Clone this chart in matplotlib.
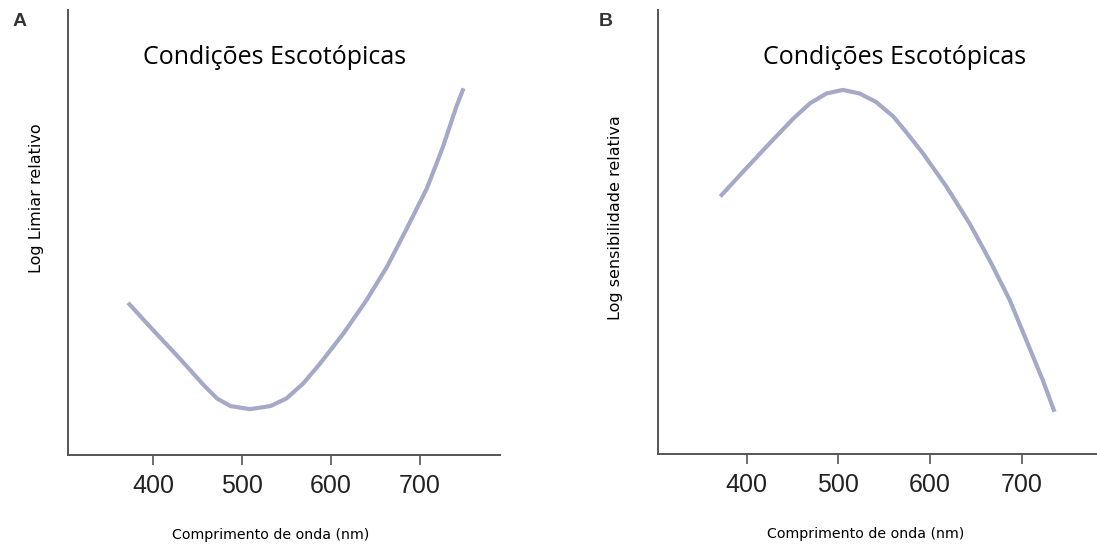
import matplotlib.pyplot as plt

# --- Data (wavelength in nm, relative log units) ---
wl_a = [372, 400, 430, 457, 472, 487, 509, 532, 550, 569, 588, 614, 640, 663, 685, 708, 726, 741, 749]
thr_a = [3.42, 2.81, 2.17, 1.57, 1.27, 1.10, 1.03, 1.10, 1.27, 1.61, 2.06, 2.73, 3.48, 4.23, 5.08,
         6.00, 6.93, 7.83, 8.24]

wl_b = [371, 396, 425, 451, 469, 487, 505, 523, 541, 560, 574, 592, 618, 643, 665, 687, 705, 723, 736]
sens_b = [5.80, 6.36, 7.00, 7.56, 7.90, 8.12, 8.20, 8.12, 7.93, 7.60, 7.25, 6.78, 6.02, 5.20, 4.37,
          3.47, 2.57, 1.67, 0.95]

ticks = [400, 500, 600, 700]
title = "Condições Escotópicas"
xlabel = "Comprimento de onda (nm)"
line_color = "#a5a9c8"
spine_color = "#555555"

fig = plt.figure(figsize=(10.97, 5.47), dpi=100)

W, H = 1097, 547


def make_axes(left_px, right_px, top_px, bottom_px):
    return fig.add_axes([left_px / W, 1 - bottom_px / H,
                         (right_px - left_px) / W, (bottom_px - top_px) / H])


ax_a = make_axes(68, 500, 10, 455)
ax_b = make_axes(658, 1104, 10, 454)

panels = [
    (ax_a, wl_a, thr_a, "Log Limiar relativo", (-0.056, 0.578), (0.468, -0.165), (304.5, 790), 0.478),
    (ax_b, wl_b, sens_b, "Log sensibilidade relativa", (-0.078, 0.533), (0.466, -0.165), (303, 790), 0.531),
]

for ax, x, y, ylab, ycoords, xcoords, xlim, title_x in panels:
    ax.plot(x, y, color=line_color, lw=3.0, solid_capstyle="butt", solid_joinstyle="round")
    ax.set_xlim(*xlim)
    ax.set_ylim(0, 10)
    ax.set_xticks(ticks)
    ax.set_yticks([])
    for side in ["top", "right"]:
        ax.spines[side].set_visible(False)
    for side in ["left", "bottom"]:
        ax.spines[side].set_color(spine_color)
        ax.spines[side].set_linewidth(1.4)
    ax.tick_params(axis="x", direction="out", length=7, width=1.2, color=spine_color,
                   pad=7, labelsize=18, labelcolor="#222222")
    for lab in ax.get_xticklabels():
        lab.set_fontfamily("Liberation Sans")
    ax.set_xlabel(xlabel, fontsize=10.2, family="DejaVu Sans")
    ax.xaxis.set_label_coords(*xcoords)
    ax.set_ylabel(ylab, fontsize=11.5, family="DejaVu Sans")
    ax.yaxis.set_label_coords(*ycoords)
    ax.text(title_x, 0.894, title, transform=ax.transAxes, ha="center", va="center",
            fontsize=18, family="Open Sans")

fig.text(20 / W, 1 - 21 / H, "A", ha="center", va="center", fontsize=14,
         fontweight="bold", family="Liberation Sans", color="#333333")
fig.text(606 / W, 1 - 21 / H, "B", ha="center", va="center", fontsize=14,
         fontweight="bold", family="Liberation Sans", color="#333333")

fig.savefig("out.png", dpi=100)
